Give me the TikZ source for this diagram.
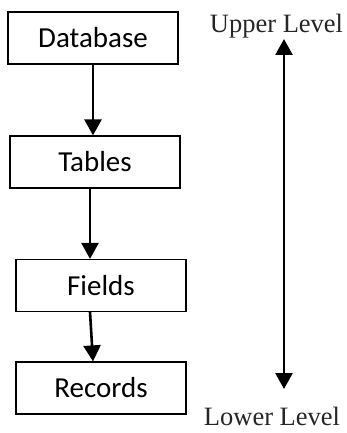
\documentclass[tikz,border=0pt]{standalone}
\usepackage{fontspec}
\setmainfont{Liberation Serif}
\newfontfamily\boxfont{Carlito}
\usetikzlibrary{arrows.meta}
\begin{document}
\begin{tikzpicture}[thick]
  % Define styles
  \tikzstyle{level} = [rectangle, draw, line width=1.2pt, minimum width=170pt, minimum height=52pt, inner sep=0pt, text centered, font=\boxfont\fontsize{29}{32}\selectfont]
  \tikzstyle{label} = [anchor=base, inner sep=0pt, text=black!85, font=\fontsize{26.5}{30}\selectfont]
  \tikzstyle{arrow} = [line width=2.6pt, -{Triangle[width=17pt,length=16pt]}]

  \useasboundingbox (0,0) rectangle (346pt,-433pt);

  % Hierarchy
  \node[level] (database) at (93pt,-38pt) {Database};
  \node[level] (tables) at (95pt,-162pt) {Tables};
  \node[level] (fields) at (101pt,-285.5pt) {Fields};
  \node[level] (records) at (101pt,-388pt) {Records};

  % Arrows between levels
  \draw[arrow] (database.south) -- ([xshift=-2pt]tables.north);
  \draw[arrow] ([xshift=-5pt]tables.south) -- ([xshift=-11pt]fields.north);
  \draw[arrow] ([xshift=-11pt]fields.south) -- ([xshift=-8pt]records.north);

  % Level scale
  \node[label] (upper) at (276.5pt,-33pt) {Upper Level};
  \node[label] (lower) at (272pt,-425pt) {Lower Level};
  \coordinate (uptip) at (284pt,-39pt);
  \coordinate (downtip) at (284pt,-389pt);
  \draw[arrow, {Triangle[width=17pt,length=16pt]}-{Triangle[width=17pt,length=16pt]}] (uptip) -- (downtip);

\end{tikzpicture}
\end{document}
